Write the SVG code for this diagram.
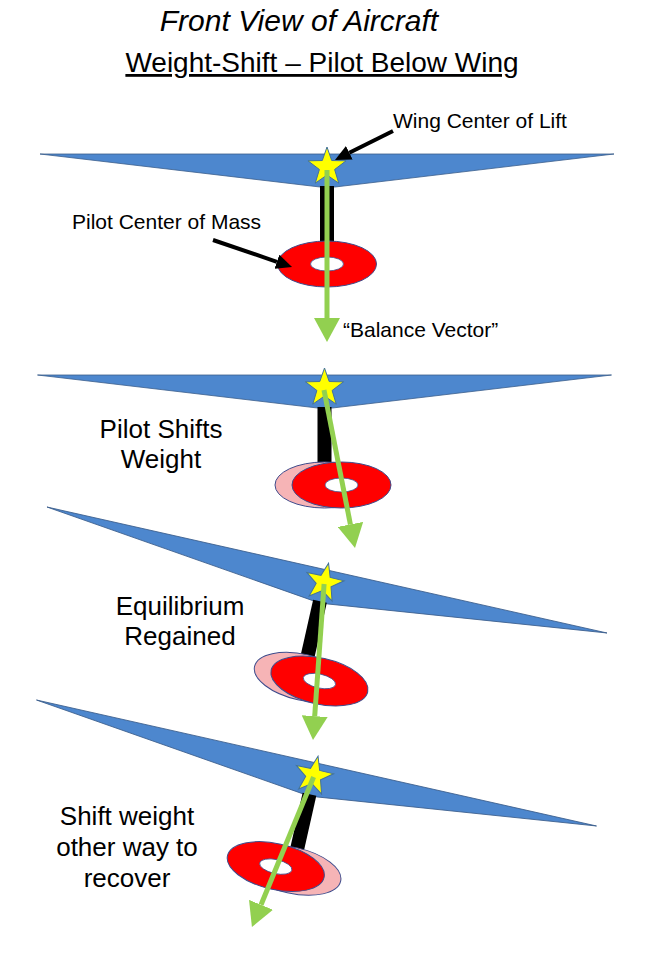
<svg xmlns="http://www.w3.org/2000/svg" xmlns:xlink="http://www.w3.org/1999/xlink" width="653" height="960" viewBox="0 0 653 960">
<style>
.txt{font-family:"Liberation Sans",Arial,sans-serif;fill:#000}
.wing{fill:#4D87CE;stroke:#3B5E8C;stroke-width:0.8}
.strut{fill:#000}
.red{fill:#FF0000;stroke:#3F4C8C;stroke-width:1}
.pink{fill:#F6B4B6;stroke:#3F4C8C;stroke-width:1}
.hole{fill:#FFFFFF;stroke:#3F4C8C;stroke-width:0.8}
.star{fill:#FFFF00;stroke:#41719C;stroke-width:1}
.gv{stroke:#92D050;stroke-width:5;fill:none}
.bk{stroke:#000;stroke-width:4;fill:none}
</style>
<defs>
<marker id="gh" markerUnits="userSpaceOnUse" markerWidth="24" markerHeight="26" viewBox="0 0 24 26" refX="0" refY="13" orient="auto"><path d="M0,0 L24,13 L0,26 z" fill="#92D050"/></marker>
<marker id="bh" markerUnits="userSpaceOnUse" markerWidth="16" markerHeight="15" viewBox="0 0 16 15" refX="0" refY="7.5" orient="auto"><path d="M0,0 L16,7.5 L0,15 z" fill="#000"/></marker>
<polygon id="wingShape" class="wing" points="-287,0 287,0 8,33 -7,33"/>
<polygon id="starShape" class="star" points="0,-20 4.70,-6.47 19.02,-6.18 7.61,2.47 11.76,16.18 0,8 -11.76,16.18 -7.61,2.47 -19.02,-6.18 -4.70,-6.47"/>
<g id="redRing"><ellipse class="red" cx="0" cy="0" rx="49.5" ry="23"/><ellipse class="hole" cx="0" cy="0" rx="16.5" ry="7"/></g>
<g id="pinkRing"><ellipse class="pink" cx="0" cy="0" rx="49.5" ry="23"/><ellipse class="hole" cx="0" cy="0" rx="16.5" ry="7"/></g>
</defs>
<rect width="653" height="960" fill="#FFFFFF"/>
<g id="title">
<text class="txt" x="299" y="31" font-size="30" font-style="italic" text-anchor="middle">Front View of Aircraft</text>
<text class="txt" x="322" y="72" font-size="28" text-anchor="middle" text-decoration="underline">Weight-Shift – Pilot Below Wing</text>
</g>
<g id="panel1" transform="translate(327,154)">
<use xlink:href="#wingShape"/>
<rect class="strut" x="-7" y="32" width="14" height="60"/>
<use xlink:href="#redRing" transform="translate(0,110)"/>
<use xlink:href="#starShape" transform="translate(0,13)"/>
</g>
<g id="panel2" transform="translate(324.5,375)">
<use xlink:href="#wingShape"/>
<rect class="strut" x="-7" y="32" width="14" height="60"/>
<use xlink:href="#pinkRing" transform="translate(0,110)"/>
<use xlink:href="#redRing" transform="translate(17,110)"/>
<use xlink:href="#starShape" transform="translate(0,13)"/>
</g>
<g id="panel3" transform="translate(327,570) rotate(12.68)">
<use xlink:href="#wingShape"/>
<rect class="strut" x="-7" y="32" width="14" height="60"/>
<use xlink:href="#pinkRing" transform="translate(0,110)"/>
<use xlink:href="#redRing" transform="translate(17,110)"/>
<use xlink:href="#starShape" transform="translate(0,13)"/>
</g>
<g id="panel4" transform="translate(316.5,763) rotate(12.68)">
<use xlink:href="#wingShape"/>
<rect class="strut" x="-7" y="32" width="14" height="60"/>
<use xlink:href="#pinkRing" transform="translate(0,110)"/>
<use xlink:href="#redRing" transform="translate(-17,110)"/>
<use xlink:href="#starShape" transform="translate(0,13)"/>
</g>
<g id="connectors">
<line class="gv" x1="327" y1="170" x2="327" y2="318" marker-end="url(#gh)"/>
<line class="gv" x1="324" y1="390" x2="350.4" y2="524.4" marker-end="url(#gh)"/>
<line class="gv" x1="324.1" y1="584" x2="314.7" y2="716.1" marker-end="url(#gh)"/>
<line class="gv" x1="313.6" y1="777" x2="261.05" y2="904.8" marker-end="url(#gh)"/>
<line class="bk" x1="393" y1="131" x2="349.3" y2="152.8" marker-end="url(#bh)"/>
<line class="bk" x1="213" y1="240" x2="276.9" y2="261.8" marker-end="url(#bh)"/>
</g>
<g id="labels">
<text class="txt" x="393" y="128" font-size="21">Wing Center of Lift</text>
<text class="txt" x="72" y="229" font-size="21">Pilot Center of Mass</text>
<text class="txt" x="343" y="337" font-size="21">“Balance Vector”</text>
<text class="txt" x="161" y="438" font-size="26" text-anchor="middle">Pilot Shifts</text>
<text class="txt" x="161" y="468" font-size="26" text-anchor="middle">Weight</text>
<text class="txt" x="180" y="615" font-size="26" text-anchor="middle">Equilibrium</text>
<text class="txt" x="180" y="645" font-size="26" text-anchor="middle">Regained</text>
<text class="txt" x="127" y="825" font-size="26" text-anchor="middle">Shift weight</text>
<text class="txt" x="127" y="856" font-size="26" text-anchor="middle">other way to</text>
<text class="txt" x="127" y="887" font-size="26" text-anchor="middle">recover</text>
</g>
</svg>
